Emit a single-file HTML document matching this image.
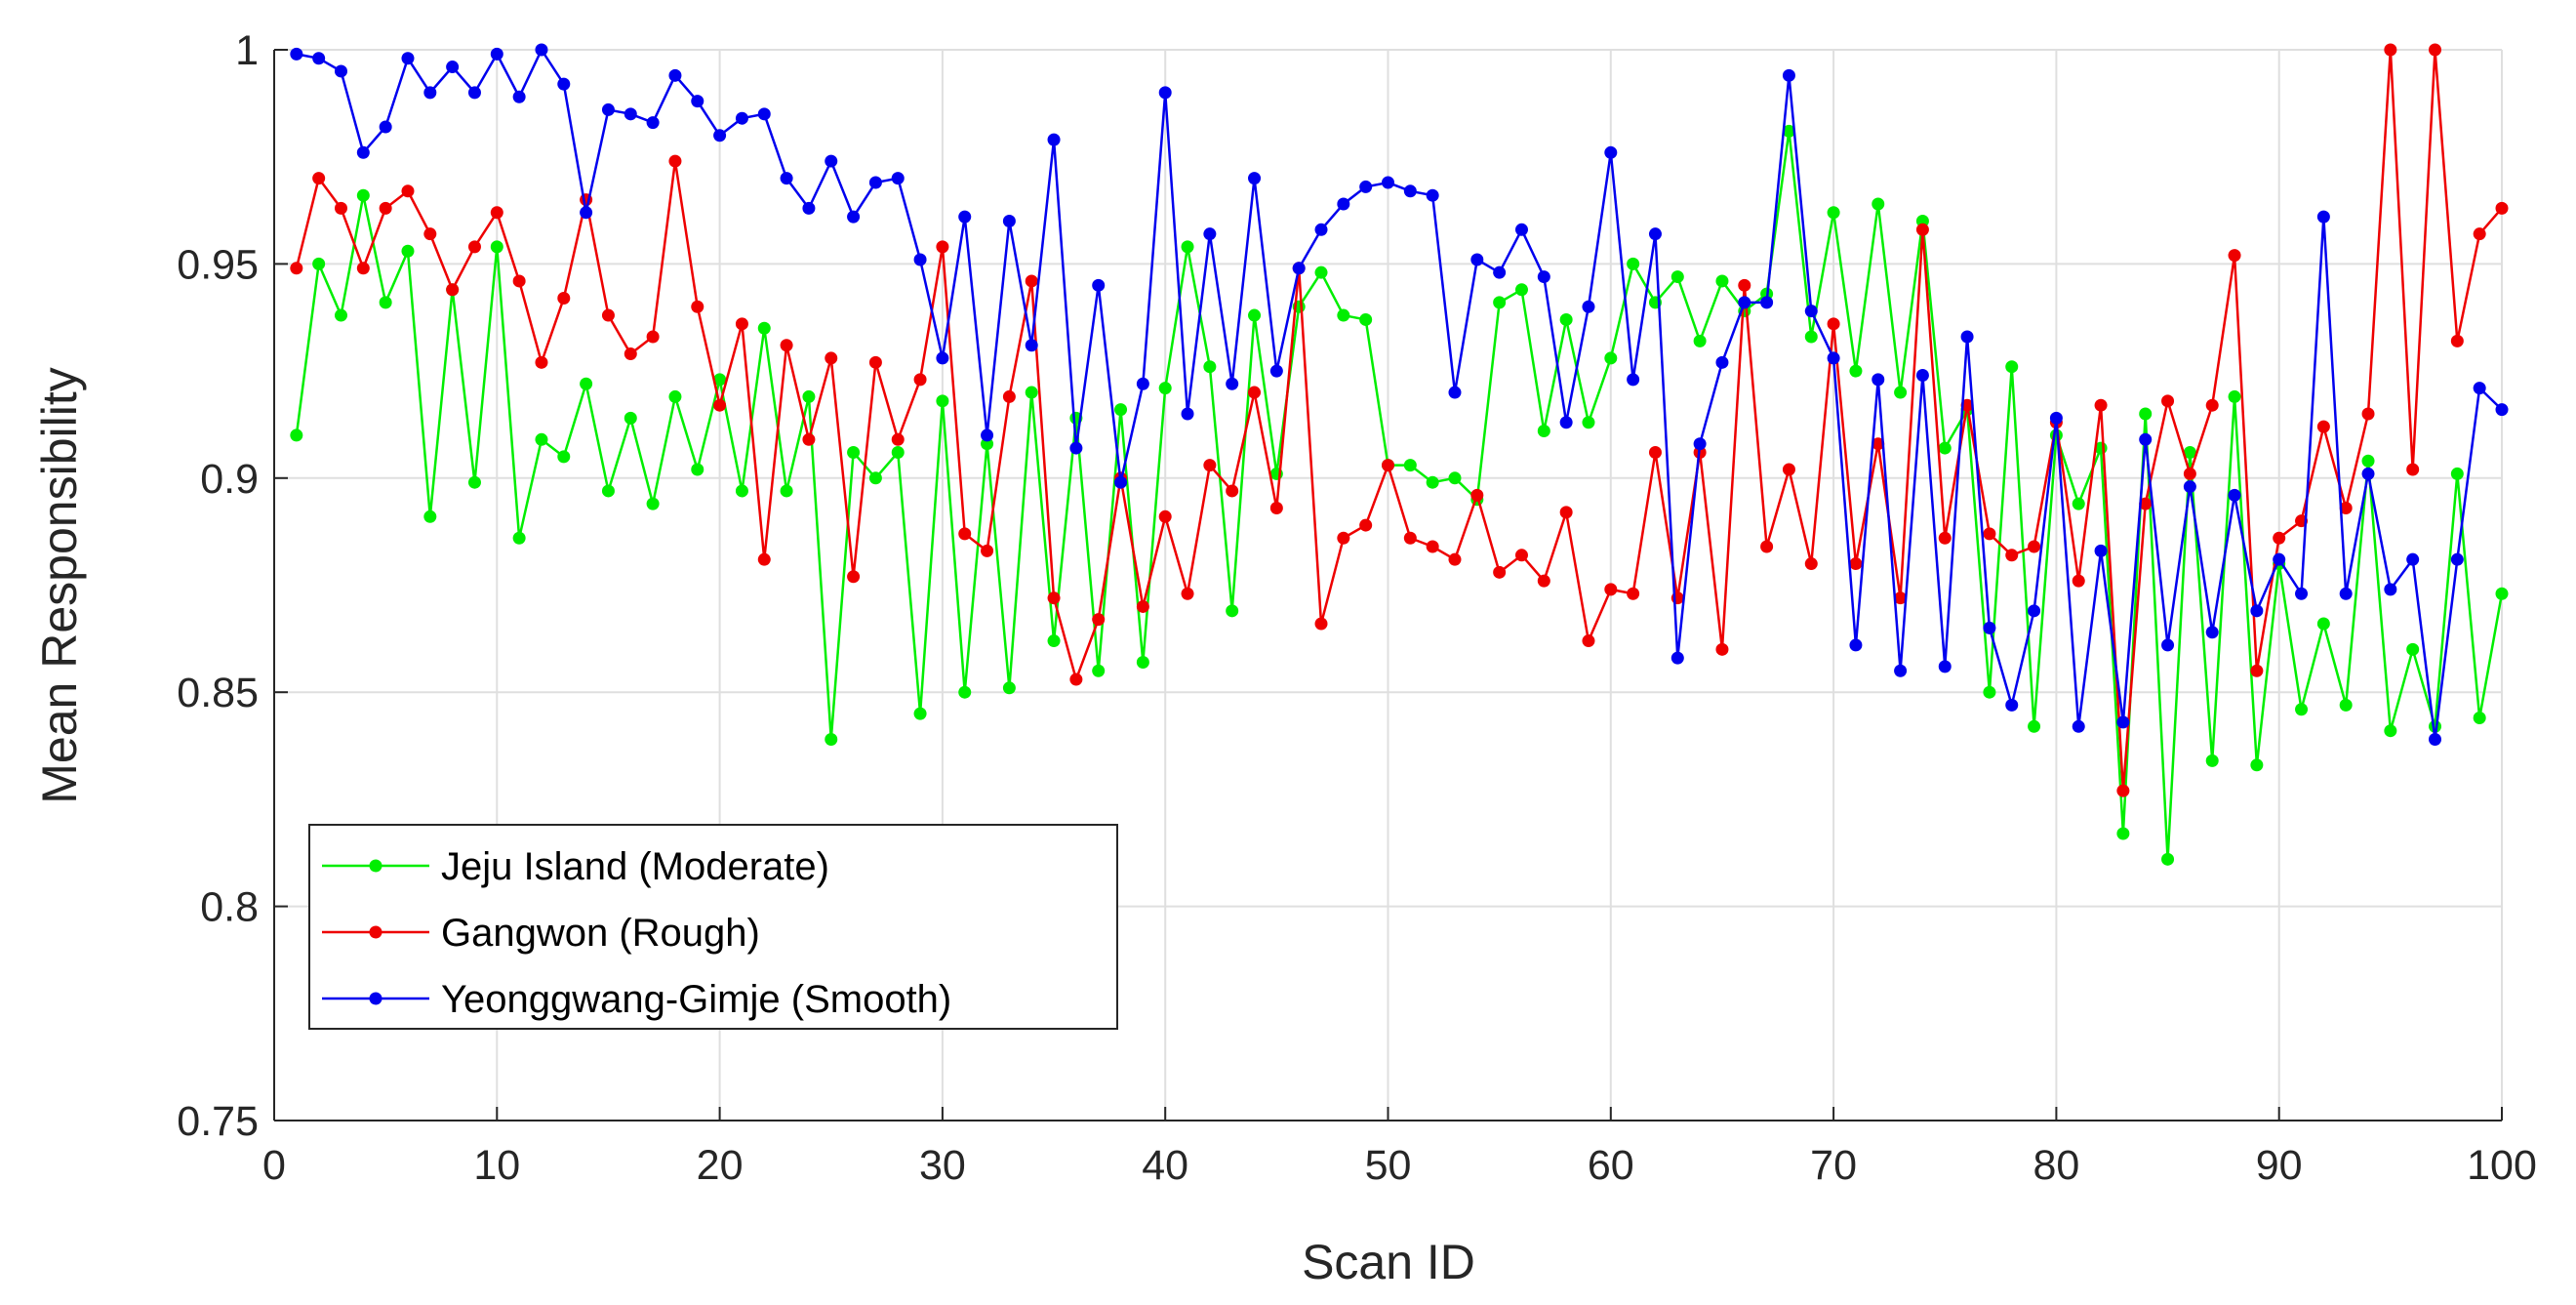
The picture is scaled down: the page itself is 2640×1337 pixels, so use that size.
<!DOCTYPE html>
<html><head><meta charset="utf-8"><style>
html,body{margin:0;padding:0;background:#fff;}
svg{display:block;font-family:"Liberation Sans",Arial,sans-serif;}
</style></head><body>
<svg id="chart" width="2640" height="1337" viewBox="0 0 2640 1337">
<g id="grid"></g>
<g id="axes"></g>
<g id="series"></g>
<text x="78" y="600" font-size="50" fill="#262626" text-anchor="middle" transform="rotate(-90 78 600)">Mean Responsibility</text>
<text x="1423" y="1310" font-size="50" fill="#262626" text-anchor="middle">Scan ID</text>
<g id="legend"></g>
</svg>
<script>
const xTicks=[0,10,20,30,40,50,60,70,80,90,100];
const yTicks=[0.75,0.8,0.85,0.9,0.95,1];
const yTickLabels=["0.75","0.8","0.85","0.9","0.95","1"];
const seriesNames=["Jeju Island (Moderate)","Gangwon (Rough)","Yeonggwang-Gimje (Smooth)"];
const jeju=[0.910,0.950,0.938,0.966,0.941,0.953,0.891,0.944,0.899,0.954,0.886,0.909,0.905,0.922,0.897,0.914,0.894,0.919,0.902,0.923,0.897,0.935,0.897,0.919,0.839,0.906,0.900,0.906,0.845,0.918,0.850,0.908,0.851,0.920,0.862,0.914,0.855,0.916,0.857,0.921,0.954,0.926,0.869,0.938,0.901,0.940,0.948,0.938,0.937,0.903,0.903,0.899,0.900,0.895,0.941,0.944,0.911,0.937,0.913,0.928,0.950,0.941,0.947,0.932,0.946,0.939,0.943,0.981,0.933,0.962,0.925,0.964,0.920,0.960,0.907,0.916,0.850,0.926,0.842,0.910,0.894,0.907,0.817,0.915,0.811,0.906,0.834,0.919,0.833,0.880,0.846,0.866,0.847,0.904,0.841,0.860,0.842,0.901,0.844,0.873];
const gangwon=[0.949,0.970,0.963,0.949,0.963,0.967,0.957,0.944,0.954,0.962,0.946,0.927,0.942,0.965,0.938,0.929,0.933,0.974,0.940,0.917,0.936,0.881,0.931,0.909,0.928,0.877,0.927,0.909,0.923,0.954,0.887,0.883,0.919,0.946,0.872,0.853,0.867,0.900,0.870,0.891,0.873,0.903,0.897,0.920,0.893,0.949,0.866,0.886,0.889,0.903,0.886,0.884,0.881,0.896,0.878,0.882,0.876,0.892,0.862,0.874,0.873,0.906,0.872,0.906,0.860,0.945,0.884,0.902,0.880,0.936,0.880,0.908,0.872,0.958,0.886,0.917,0.887,0.882,0.884,0.913,0.876,0.917,0.827,0.894,0.918,0.901,0.917,0.952,0.855,0.886,0.890,0.912,0.893,0.915,1.000,0.902,1.000,0.932,0.957,0.963];
const yeonggwang=[0.999,0.998,0.995,0.976,0.982,0.998,0.990,0.996,0.990,0.999,0.989,1.000,0.992,0.962,0.986,0.985,0.983,0.994,0.988,0.980,0.984,0.985,0.970,0.963,0.974,0.961,0.969,0.970,0.951,0.928,0.961,0.910,0.960,0.931,0.979,0.907,0.945,0.899,0.922,0.990,0.915,0.957,0.922,0.970,0.925,0.949,0.958,0.964,0.968,0.969,0.967,0.966,0.920,0.951,0.948,0.958,0.947,0.913,0.940,0.976,0.923,0.957,0.858,0.908,0.927,0.941,0.941,0.994,0.939,0.928,0.861,0.923,0.855,0.924,0.856,0.933,0.865,0.847,0.869,0.914,0.842,0.883,0.843,0.909,0.861,0.898,0.864,0.896,0.869,0.881,0.873,0.961,0.873,0.901,0.874,0.881,0.839,0.881,0.921,0.916];

const NS="http://www.w3.org/2000/svg";
const L=281,R=2564,T=51,B=1148;
const xs=v=>L+(v-0)/(100-0)*(R-L);
const ys=v=>B-(v-0.75)/(1-0.75)*(B-T);
function mk(tag,attrs,parent){const e=document.createElementNS(NS,tag);for(const k in attrs)e.setAttribute(k,attrs[k]);parent.appendChild(e);return e;}
const grid=document.getElementById('grid'),axes=document.getElementById('axes'),ser=document.getElementById('series'),leg=document.getElementById('legend');
xTicks.forEach(t=>{
 const g=mk('line',{x1:xs(t),x2:xs(t),y1:T,y2:B,stroke:'#dfdfdf','stroke-width':2},grid);
 
 
 const tk=mk('line',{x1:xs(t),x2:xs(t),y1:B,y2:B-14,stroke:'#262626','stroke-width':2},axes);
 
 
 const lb=mk('text',{x:xs(t),y:B+60,'font-size':43,fill:'#262626','text-anchor':'middle'},axes);
 lb.textContent=t;
 
 
});
yTicks.forEach((t,i)=>{
 const g=mk('line',{x1:L,x2:R,y1:ys(t),y2:ys(t),stroke:'#dfdfdf','stroke-width':2},grid);
 
 
 const tk=mk('line',{x1:L,x2:L+14,y1:ys(t),y2:ys(t),stroke:'#262626','stroke-width':2},axes);
 
 
 const lb=mk('text',{x:L-16,y:ys(t)+15,'font-size':43,fill:'#262626','text-anchor':'end'},axes);
 lb.textContent=yTickLabels[i];
 
 
});
const xa=mk('line',{x1:L,x2:R,y1:B,y2:B,stroke:'#262626','stroke-width':2},axes);


const ya=mk('line',{x1:L,x2:L,y1:T,y2:B,stroke:'#262626','stroke-width':2},axes);



const data=[jeju,gangwon,yeonggwang];
const colors=['#00ee00','#ee0000','#0000ee'];
const keys=['jeju','gangwon','yeonggwang'];
data.forEach((d,si)=>{
 const g=mk('g',{},ser);
 
 
 const pts=d.map((v,i)=>xs(i+1)+','+ys(v)).join(' ');
 const pl=mk('polyline',{points:pts,fill:'none',stroke:colors[si],'stroke-width':2.5},g);
 
 
 d.forEach((v,i)=>{
  const c=mk('circle',{cx:xs(i+1),cy:ys(v),r:6.5,fill:colors[si]},g);
  
  
 });
});
const box=mk('rect',{x:317,y:845,width:828,height:209,fill:'#fff',stroke:'#262626','stroke-width':2},leg);


seriesNames.forEach((n,i)=>{
 const y=887+i*68;
 const g=mk('g',{},leg);
 
 
 mk('line',{x1:330,x2:440,y1:y,y2:y,stroke:colors[i],'stroke-width':2.5},g);
 mk('circle',{cx:385,cy:y,r:6.5,fill:colors[i]},g);
 const t=mk('text',{x:452,y:y+14,'font-size':40,fill:'#000'},g);
 t.textContent=n;
});
</script>
</body></html>
